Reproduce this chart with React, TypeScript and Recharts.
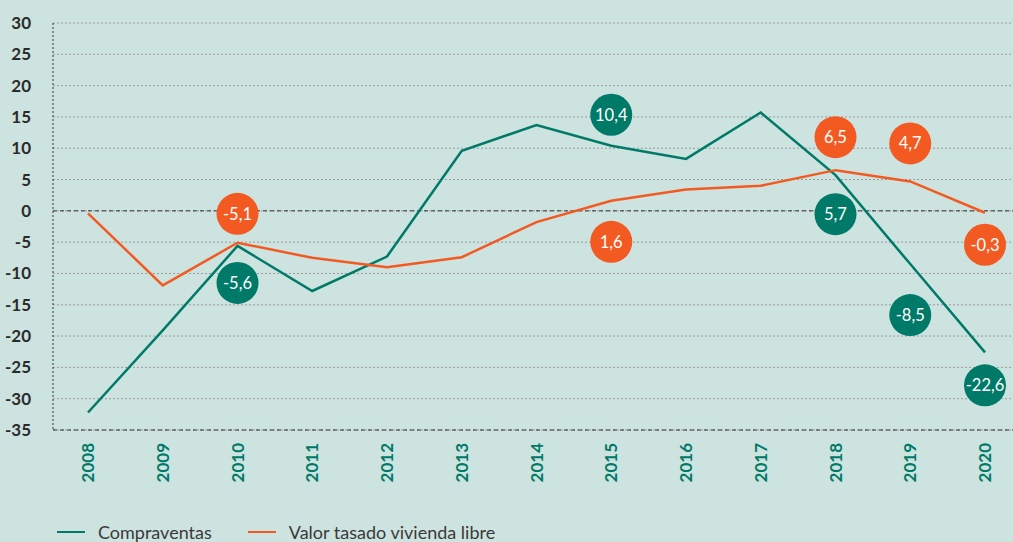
import { LineChart, Line, XAxis, YAxis, CartesianGrid, ReferenceLine } from "recharts";

const years = ["2008", "2009", "2010", "2011", "2012", "2013", "2014", "2015", "2016", "2017", "2018", "2019", "2020"];
const compraventas = [-32.2, -19.1, -5.6, -12.8, -7.3, 9.6, 13.7, 10.4, 8.3, 15.7, 5.7, -8.5, -22.6];
const valorTasado = [-0.4, -11.9, -5.1, -7.5, -9.0, -7.4, -1.8, 1.6, 3.4, 4.0, 6.5, 4.7, -0.3];
const yTicks = [30, 25, 20, 15, 10, 5, 0, -5, -10, -15, -20, -25, -30, -35];

// years that get a value bubble, and how far (px) the bubble sits from the point
const greenBubbles: Record<string, number> = { "2010": 37, "2015": -31, "2018": 39, "2019": 51, "2020": 33 };
const orangeBubbles: Record<string, number> = { "2010": -29, "2015": 41, "2018": -33, "2019": -38, "2020": 32 };

const GREEN = "#007a68";
const ORANGE = "#f35a22";
const FONT = "Lato, 'Open Sans', sans-serif";

const data = years.map((y, i) => ({ year: y, compraventas: compraventas[i], valor: valorTasado[i] }));

const fmt = (v: number) => v.toFixed(1).replace(".", ",");

function makeBubble(offsets: Record<string, number>, color: string, key: string) {
  return (props: any) => {
    const { cx, cy, payload, index } = props;
    const dy = offsets[payload.year];
    if (dy === undefined || cx == null) return <g key={`${key}-${index}`} />;
    return (
      <g key={`${key}-${index}`}>
        <circle cx={cx} cy={cy + dy} r={21} fill={color} />
        <text
          x={cx}
          y={cy + dy}
          dy={6}
          textAnchor="middle"
          fill="#fff"
          fontSize={16.5}
          fontFamily={FONT}
        >
          {fmt(payload[key])}
        </text>
      </g>
    );
  };
}

const YearTick = (props: any) => {
  const { x, y, payload } = props;
  return (
    <text
      x={0}
      y={0}
      transform={`translate(${x + 6},${y + 5}) rotate(-90)`}
      textAnchor="end"
      fill={GREEN}
      fontSize={17}
      fontWeight={700}
      fontFamily={FONT}
    >
      {payload.value}
    </text>
  );
};

export default function App() {
  return (
    <div style={{ position: "absolute", left: 0, top: 0, width: 1013, height: 542, background: "#cde3e0", overflow: "hidden" }}>
      <LineChart width={1013} height={502} data={data} margin={{ top: 23, right: 0, left: 0, bottom: 0 }}>
        <CartesianGrid vertical={false} stroke="#9a9a9a" strokeDasharray="2 2" />
        <XAxis
          dataKey="year"
          tick={<YearTick />}
          interval={0}
          tickLine={false}
          axisLine={{ stroke: "#333", strokeDasharray: "4 3" }}
          padding={{ left: 35, right: 28 }}
          height={72}
        />
        <YAxis
          domain={[-35, 30]}
          ticks={yTicks}
          interval={0}
          width={53}
          tickLine={false}
          tickMargin={16}
          axisLine={{ stroke: "#333", strokeDasharray: "2 2" }}
          tick={{ fill: "#2b2b2b", fontSize: 17, fontWeight: 700, fontFamily: FONT }}
        />
        <ReferenceLine y={0} stroke="#333" strokeDasharray="4 3" />
        <Line
          type="linear"
          dataKey="compraventas"
          stroke={GREEN}
          strokeWidth={2.5}
          dot={makeBubble(greenBubbles, GREEN, "compraventas")}
          activeDot={false}
          isAnimationActive={false}
        />
        <Line
          type="linear"
          dataKey="valor"
          stroke={ORANGE}
          strokeWidth={2.5}
          dot={makeBubble(orangeBubbles, ORANGE, "valor")}
          activeDot={false}
          isAnimationActive={false}
        />
      </LineChart>
      <div
        style={{
          position: "absolute",
          left: 57,
          top: 522,
          display: "flex",
          fontFamily: FONT,
          fontSize: 18,
          color: "#3a3a3a",
          lineHeight: "20px",
        }}
      >
        <span style={{ display: "flex", alignItems: "center", marginRight: 36 }}>
          <span style={{ width: 28, height: 2, background: GREEN, marginRight: 13 }} />
          Compraventas
        </span>
        <span style={{ display: "flex", alignItems: "center" }}>
          <span style={{ width: 28, height: 2, background: ORANGE, marginRight: 13 }} />
          Valor tasado vivienda libre
        </span>
      </div>
    </div>
  );
}
